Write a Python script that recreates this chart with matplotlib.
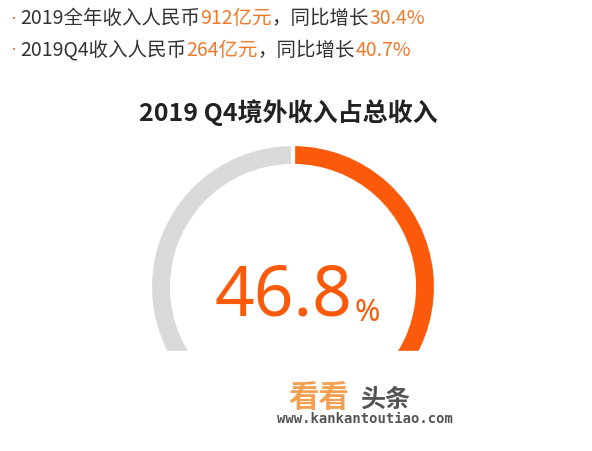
import matplotlib
matplotlib.use("Agg")
import matplotlib.pyplot as plt
from matplotlib.patches import Rectangle

plt.rcParams['font.family'] = ['Noto Sans CJK SC', 'DejaVu Sans']

shares = [46.8, 53.2]
share_label = "46.8"
title = "2019 Q4境外收入占总收入"
lines = [
    [("2019全年收入人民币", 0), ("912亿元", 1), ("，同比增长", 0), ("30.4%", 1)],
    [("2019Q4收入人民币", 0), ("264亿元", 1), ("，同比增长", 0), ("40.7%", 1)],
]

W, H = 592, 452
fig = plt.figure(figsize=(W/100, H/100), dpi=100)
ax = fig.add_axes([0, 0, 1, 1])
ax.set_xlim(0, W); ax.set_ylim(0, H); ax.set_aspect('equal'); ax.axis('off')

ORANGE = '#fa5a0a'; TXT_OR = '#f07a2c'; DARK = '#333333'

ax.pie(shares, colors=[ORANGE, '#d9d9d9'], startangle=90, counterclock=False,
       center=(293, H-288), radius=143,
       wedgeprops=dict(width=22, edgecolor='white', linewidth=3))
ax.set_xlim(0, W); ax.set_ylim(0, H); ax.set_aspect('equal')
ax.add_patch(Rectangle((0, 0), W, H-352, color='white', zorder=5))

ax.text(352, H-298, share_label, color=ORANGE, fontsize=50, ha='right', va='center',
        family=['Noto Sans'])
ax.text(354, H-313, "%", color=ORANGE, fontsize=22, ha='left', va='center', family=['Noto Sans'])
ax.text(288, H-113, title, color='#222222', fontsize=18, fontweight='bold', ha='center', va='center')

fig.canvas.draw()
r = fig.canvas.get_renderer()
for i, parts in enumerate(lines):
    y = H - (19 + 31*i)
    ax.text(8, y, "•", color=ORANGE, fontsize=7, va='center')
    x = 20
    for s, hl in parts:
        t = ax.text(x, y, s, color=TXT_OR if hl else DARK, fontsize=14, va='center')
        bb = t.get_window_extent(renderer=r)
        x += bb.width

ax.text(349, H-398, "看看", color='#f5a050', fontsize=22, fontweight='bold', ha='right', va='center', zorder=6)
ax.text(360, H-400, "头条", color='#555555', fontsize=18, fontweight='bold', ha='left', va='center', zorder=6)
ax.text(365, H-419, "www.kankantoutiao.com", color='#555555', fontsize=10, fontweight='bold',
        family=['DejaVu Sans Mono'], ha='center', va='center', zorder=6)

fig.savefig("out.png", dpi=100)
